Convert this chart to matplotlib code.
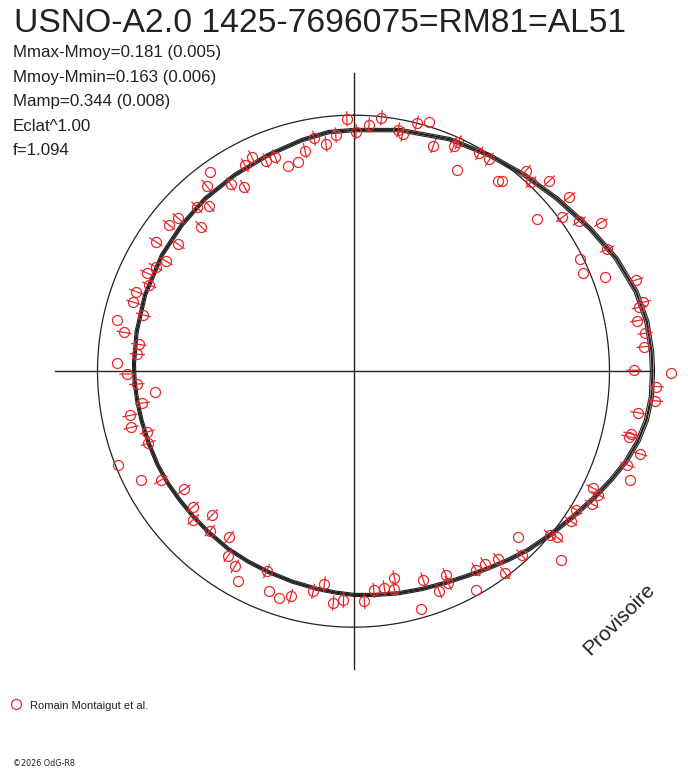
import numpy as np
import matplotlib
matplotlib.use("Agg")
import matplotlib.pyplot as plt
from matplotlib.collections import LineCollection
from matplotlib.lines import Line2D

# ---------------- data ----------------
title = "USNO-A2.0 1425-7696075=RM81=AL51"
info_lines = ["Mmax-Mmoy=0.181 (0.005)",
              "Mmoy-Mmin=0.163 (0.006)",
              "Mamp=0.344 (0.008)",
              "Eclat^1.00",
              "f=1.094"]
legend_label = "Romain Montaigut et al."
credit = "\u00a92026 OdG-R8"
stamp = "Provisoire"

# fitted light curve (phase in degrees, clockwise from top; radius relative to reference circle)
fit_phase_deg = [0, 10.9, 22.5, 32.3, 40.9, 49.6, 58.9, 66.8, 74.3, 80.4, 86.3, 90.1,
                 94.9, 99.5, 103.9, 108.4, 112.9, 117.9, 123.5, 129.2, 135.6, 140.7, 145.8,
                 151.1, 156.2, 162.5, 168.5, 174.6, 179.8, 184.3, 189.7, 196.2, 202.9, 209.0,
                 215.4, 222.0, 227.7, 233.5, 238.9, 244.4, 250.6, 257.0, 262.4, 267.7,
                 272.0, 280.3, 290.1, 301.2, 310.4, 319.3, 328.9, 338.5, 347.4, 354.0]
fit_radius = [0.942, 0.959, 0.981, 0.997, 1.016, 1.042, 1.079, 1.117, 1.147, 1.162, 1.167, 1.168,
              1.168, 1.160, 1.144, 1.121, 1.092, 1.061, 1.029, 1.002, 0.976, 0.953, 0.932,
              0.914, 0.902, 0.892, 0.885, 0.878, 0.874, 0.868, 0.862, 0.856, 0.852, 0.850,
              0.849, 0.846, 0.845, 0.845, 0.847, 0.848, 0.848, 0.850, 0.853, 0.856,
              0.858, 0.861, 0.867, 0.875, 0.881, 0.889, 0.896, 0.908, 0.925, 0.939]

# observations
obs_phase_deg = [0.6, 3.6, 6.3, 10.5, 11.7, 14.3, 16.8, 19.5, 24.0, 24.6, 27.3, 30.0, 32.7,
                 37.3, 37.9, 40.7, 43.2, 45.8, 50.4, 51.1, 53.6, 56.4, 59.0, 63.6, 64.3,
                 66.9, 69.5, 72.1, 76.6, 77.4, 79.9, 82.6, 85.2, 89.8, 90.3, 92.9, 95.6,
                 98.3, 102.7, 103.4, 106.1, 108.9, 111.4, 116.0, 116.8, 119.1, 121.9, 124.6,
                 129.2, 129.8, 132.4, 135.2, 137.6, 142.4, 143.1, 145.7, 148.3, 150.8, 155.6,
                 155.9, 158.7, 161.5, 164.1, 168.8, 169.4, 171.9, 174.7, 177.3, 182.5, 185.0,
                 187.8, 190.4, 195.6, 198.1, 200.9, 203.5, 208.9, 211.3, 214.2, 216.8, 222.0,
                 224.5, 227.2, 229.8, 235.1, 240.5, 242.9, 248.2, 250.7, 253.6, 255.8, 258.8,
                 261.4, 264.0, 266.6, 269.3, 272.1, 274.5, 277.1, 279.6, 282.2, 285.0, 287.4,
                 290.1, 292.9, 295.4, 297.8, 300.4, 303.2, 305.9, 308.4, 311.1, 313.5, 316.3,
                 318.9, 321.6, 324.2, 326.7, 329.4, 332.2, 334.6, 337.4, 339.9, 342.4, 345.2,
                 347.6, 350.4, 353.1, 355.7, 358.5]
obs_radius = [0.936, 0.964, 0.996, 0.958, 0.945, 0.999, 1.018, 0.934, 0.963, 0.983, 0.884, 0.983, 0.983,
              0.934, 0.942, 1.032, 1.013, 1.066, 0.932, 1.082, 1.013, 1.059, 1.127, 0.988, 1.100,
              0.976, 1.049, 1.160, 1.164, 1.144, 1.126, 1.148, 1.139, 1.096, 1.240, 1.184, 1.185,
              1.122, 1.111, 1.106, 1.164, 1.131, 1.160, 1.042, 1.071, 1.065, 1.023, 1.032,
              1.027, 0.998, 1.096, 0.914, 0.974, 0.926, 0.986, 0.911, 0.911, 0.980, 0.875,
              0.906, 0.921, 0.859, 0.964, 0.823, 0.864, 0.855, 0.860, 0.900, 0.896, 0.909,
              0.839, 0.874, 0.913, 0.932, 0.921, 0.852, 0.935, 0.892, 0.871, 0.810, 0.838,
              0.786, 0.853, 0.822, 0.806, 0.865, 0.934, 0.989, 0.849, 0.840, 0.896, 0.890,
              0.834, 0.780, 0.848, 0.885, 0.923, 0.847, 0.845, 0.909, 0.944, 0.850, 0.901,
              0.904, 0.866, 0.892, 0.874, 0.850, 0.923, 0.845, 0.920, 0.908, 0.821, 0.886,
              0.857, 0.924, 0.958, 0.875, 0.838, 0.910, 0.925, 0.891, 0.892, 0.841, 0.844,
              0.882, 0.923, 0.894, 0.925, 0.986]
obs_has_err = [1, 1, 1, 1, 1, 1, 0, 1, 1, 1, 0, 1, 1,
               0, 0, 1, 1, 1, 0, 1, 1, 1, 1, 0, 1,
               0, 0, 1, 1, 1, 1, 1, 1, 1, 0, 1, 1,
               1, 1, 1, 1, 1, 0, 1, 1, 1, 1, 1,
               1, 1, 0, 0, 1, 1, 1, 1, 1, 0, 1,
               1, 1, 1, 0, 1, 1, 1, 1, 1, 1, 1,
               1, 1, 1, 0, 0, 1, 0, 1, 1, 1, 1,
               1, 1, 1, 1, 1, 0, 0, 1, 1, 1, 1,
               1, 0, 1, 1, 0, 1, 1, 1, 0, 1, 1,
               1, 1, 1, 1, 1, 1, 1, 1, 1, 1, 1,
               1, 1, 0, 1, 1, 1, 1, 1, 1, 0, 0,
               1, 1, 1, 1, 1]
obs_err = 0.03
ref_radius = 1.0
axis_extent = 1.165

# ---------------- layout helpers ----------------
W, H = 688, 768
CX, CY, SCALE = 353.5, 371.2, 256.0
RED = "#e8282b"
INK = "#222222"


def fig_xy(px, py):
    return px / W, 1 - py / H


def polar_to_xy(phase_deg, radius):
    t = np.radians(np.asarray(phase_deg, float))
    r = np.asarray(radius, float)
    return r * np.sin(t), r * np.cos(t)


fig = plt.figure(figsize=(W / 100, H / 100), dpi=100)
fig.patch.set_facecolor("white")
ax = fig.add_axes([0, 0, 1, 1])
ax.set_xlim(-CX / SCALE, (W - CX) / SCALE)
ax.set_ylim(-(H - CY) / SCALE, CY / SCALE)
ax.axis("off")

# axes cross
ax.plot([-axis_extent, axis_extent], [0, 0], color=INK, lw=1.0, zorder=1)
ax.plot([0, 0], [-axis_extent, axis_extent], color=INK, lw=1.0, zorder=1)

# reference circle
tt = np.linspace(0, 360, 721)
rx, ry = polar_to_xy(tt, np.full_like(tt, ref_radius))
ax.plot(rx, ry, color=INK, lw=0.9, zorder=2)

# fitted curve (drawn as a narrow bundle)
fp = list(fit_phase_deg) + [fit_phase_deg[0] + 360]
fr = list(fit_radius) + [fit_radius[0]]
for k, lw in ((0.993, 0.8), (1.0, 1.6), (1.007, 0.8)):
    fx, fy = polar_to_xy(fp, np.array(fr) * k)
    ax.plot(fx, fy, color=INK, lw=lw, zorder=3, solid_joinstyle="round")

# error bars (radial)
segs = []
for ph, r, e in zip(obs_phase_deg, obs_radius, obs_has_err):
    if e:
        x0, y0 = polar_to_xy([ph, ph], [r - obs_err, r + obs_err])
        segs.append(np.column_stack([x0, y0]))
ax.add_collection(LineCollection(segs, colors=RED, linewidths=0.9, zorder=4))

# observations
ox, oy = polar_to_xy(obs_phase_deg, obs_radius)
ax.plot(ox, oy, linestyle="none", marker="o", ms=7.2, mfc="none", mec=RED, mew=0.9, zorder=5)

# texts
fig.text(*fig_xy(14, 32), title, fontsize=24.2, family="Liberation Sans", color=INK, va="baseline")
for i, line in enumerate(info_lines):
    fig.text(*fig_xy(13, 57.3 + 24.5 * i), line, fontsize=12.2, family="Liberation Sans",
             color=INK, va="baseline")

fig.add_artist(Line2D([16 / W], [1 - 704 / H], transform=fig.transFigure, linestyle="none",
                      marker="o", ms=7.2, mfc="none", mec=RED, mew=0.9))
fig.text(*fig_xy(30, 709), legend_label, fontsize=8, family="Liberation Sans", color=INK,
         va="baseline")
fig.text(*fig_xy(13, 766), credit, fontsize=5.8, family="DejaVu Sans", color=INK, va="baseline")

fig.text(*fig_xy(619, 619), stamp, fontsize=15, family="Liberation Sans", color=INK,
         rotation=45, ha="center", va="center", rotation_mode="anchor")

fig.savefig("out.png", dpi=100, facecolor="white")
